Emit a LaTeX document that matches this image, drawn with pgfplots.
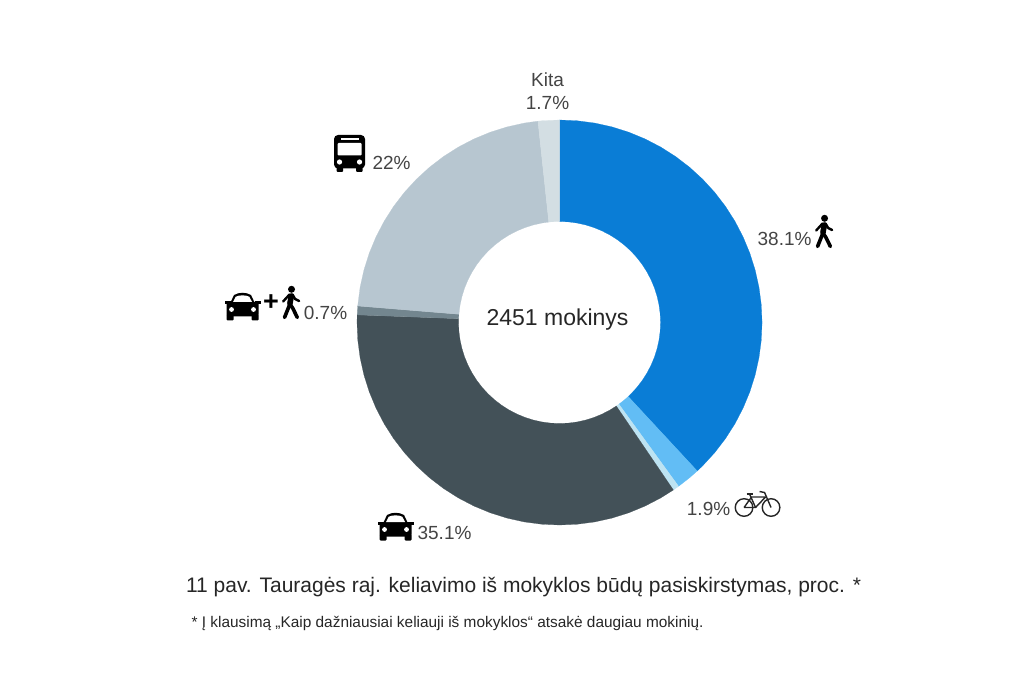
\documentclass[border=0pt]{standalone}
\usepackage{pgfplots}
\pgfplotsset{compat=1.18}
\usepackage{fontspec}
\setmainfont{Liberation Sans}
\definecolor{cBlue}{HTML}{0A7DD6}
\definecolor{cSky}{HTML}{62BDF5}
\definecolor{cPale}{HTML}{BDE3F2}
\definecolor{cDark}{HTML}{435158}
\definecolor{cMid}{HTML}{73868F}
\definecolor{cGrey}{HTML}{B7C6D0}
\definecolor{cLight}{HTML}{D3DEE3}
\definecolor{cTxt}{HTML}{444444}
\newcommand{\walkicon}[1]{\begin{scope}[shift={(#1)},x=1pt,y=1pt,black,line cap=round,line join=round]
\fill (1,13.2) circle (3.5);
\draw[line width=5.6] (0.8,6.5) -- (-0.6,-1);
\draw[line width=3.6] (-0.6,-1.5) -- (-6,-15);
\draw[line width=3.6] (-0.6,-1.5) -- (2.4,-6) -- (6.8,-15);
\draw[line width=2.4] (-1,8) -- (-7.4,1);
\draw[line width=2.4] (2,8) -- (4.6,3.5) -- (8.6,1.5);
\end{scope}}
\newcommand{\caricon}[1]{\begin{scope}[shift={(#1)},x=1pt,y=1pt,black]
\fill[rounded corners=2pt] (-16,-10) rectangle (16,4.5);
\fill (-18,2) rectangle (-12,5);
\fill (18,2) rectangle (12,5);
\fill (-12.5,3) -- (-8.5,11.5) .. controls (-3,14.5) and (3,14.5) .. (8.5,11.5) -- (12.5,3) -- cycle;
\fill[white] (-9.5,4.5) -- (-6.8,9.8) .. controls (-3,11.6) and (3,11.6) .. (6.8,9.8) -- (9.5,4.5) -- cycle;
\fill[rounded corners=1pt] (-16,-14) rectangle (-9,-8);
\fill[rounded corners=1pt] (16,-14) rectangle (9,-8);
\fill[white] (-11,-3) circle (2.4);
\fill[white] (11,-3) circle (2.4);
\end{scope}}
\newcommand{\busicon}[1]{\begin{scope}[shift={(#1)},x=1pt,y=1pt,black]
\fill[rounded corners=4pt] (-15.5,-15) rectangle (15.5,18.5);
\fill[white,rounded corners=1pt] (-12,-2) rectangle (12,10.5);
\fill[white] (-9,13.6) rectangle (9,15);
\fill[rounded corners=1pt] (-13,-18.5) rectangle (-6.5,-13);
\fill[rounded corners=1pt] (13,-18.5) rectangle (6.5,-13);
\fill[white] (-10,-8.5) circle (2.6);
\fill[white] (10,-8.5) circle (2.6);
\end{scope}}
\newcommand{\bikeicon}[1]{\begin{scope}[shift={(#1)},x=1pt,y=1pt,black!85,line width=1.4pt]
\draw (-13.5,-4) circle (8.8);
\draw (13.5,-4) circle (8.8);
\draw (-13.5,-4) -- (-6,6.5) -- (8,6.5) -- (-2,-4) -- (-13.5,-4);
\draw (-8,9.5) -- (-2,-4);
\draw (13.5,-4) -- (7,11) -- (2,12);
\draw[line width=1.8] (-11,9.5) -- (-5,9.5);
\end{scope}}
\begin{document}
\begin{tikzpicture}
\path[use as bounding box] (0,0) rectangle (1024pt,683pt);
\begin{axis}[at={(0,0)},anchor=south west,scale only axis,width=1024pt,height=683pt,
  xmin=-559.5,xmax=464.5,ymin=-360.5,ymax=322.5,hide axis,clip=false]
% shares (per cent, clockwise from the top): 38.1, 1.9, 0.5, 35.1, 0.7, 22, 1.7
% each ring segment: (angle in degrees, radius)
\addplot[data cs=polar,fill=cBlue,draw=cBlue,line width=0.2pt,forget plot] coordinates {
(90,202.5)(85,202.5)(80,202.5)(75,202.5)(70,202.5)(65,202.5)(60,202.5)(55,202.5)(50,202.5)(45,202.5)
(40,202.5)(35,202.5)(30,202.5)(25,202.5)(20,202.5)(15,202.5)(10,202.5)(5,202.5)(0,202.5)(-5,202.5)
(-10,202.5)(-15,202.5)(-20,202.5)(-25,202.5)(-30,202.5)(-35,202.5)(-40,202.5)(-45,202.5)(-47.16,202.5)
(-47.16,101)(-45,101)(-40,101)(-35,101)(-30,101)(-25,101)(-20,101)(-15,101)(-10,101)(-5,101)
(0,101)(5,101)(10,101)(15,101)(20,101)(25,101)(30,101)(35,101)(40,101)(45,101)
(50,101)(55,101)(60,101)(65,101)(70,101)(75,101)(80,101)(85,101)(90,101)} -- cycle;
\addplot[data cs=polar,fill=cSky,draw=cSky,line width=0.2pt,forget plot] coordinates {
(-47.16,202.5)(-50,202.5)(-54,202.5)(-54,101)(-50,101)(-47.16,101)} -- cycle;
\addplot[data cs=polar,fill=cPale,draw=cPale,line width=0.2pt,forget plot] coordinates {
(-54,202.5)(-55.8,202.5)(-55.8,101)(-54,101)} -- cycle;
\addplot[data cs=polar,fill=cDark,draw=cDark,line width=0.2pt,forget plot] coordinates {
(-55.8,202.5)(-60,202.5)(-65,202.5)(-70,202.5)(-75,202.5)(-80,202.5)(-85,202.5)(-90,202.5)(-95,202.5)(-100,202.5)
(-105,202.5)(-110,202.5)(-115,202.5)(-120,202.5)(-125,202.5)(-130,202.5)(-135,202.5)(-140,202.5)(-145,202.5)(-150,202.5)
(-155,202.5)(-160,202.5)(-165,202.5)(-170,202.5)(-175,202.5)(-180,202.5)(-182.16,202.5)
(-182.16,101)(-180,101)(-175,101)(-170,101)(-165,101)(-160,101)(-155,101)(-150,101)(-145,101)(-140,101)
(-135,101)(-130,101)(-125,101)(-120,101)(-115,101)(-110,101)(-105,101)(-100,101)(-95,101)(-90,101)
(-85,101)(-80,101)(-75,101)(-70,101)(-65,101)(-60,101)(-55.8,101)} -- cycle;
\addplot[data cs=polar,fill=cMid,draw=cMid,line width=0.2pt,forget plot] coordinates {
(-182.16,202.5)(-184.68,202.5)(-184.68,101)(-182.16,101)} -- cycle;
\addplot[data cs=polar,fill=cGrey,draw=cGrey,line width=0.2pt,forget plot] coordinates {
(-184.68,202.5)(-190,202.5)(-195,202.5)(-200,202.5)(-205,202.5)(-210,202.5)(-215,202.5)(-220,202.5)(-225,202.5)(-230,202.5)
(-235,202.5)(-240,202.5)(-245,202.5)(-250,202.5)(-255,202.5)(-260,202.5)(-263.88,202.5)
(-263.88,101)(-260,101)(-255,101)(-250,101)(-245,101)(-240,101)(-235,101)(-230,101)(-225,101)(-220,101)
(-215,101)(-210,101)(-205,101)(-200,101)(-195,101)(-190,101)(-184.68,101)} -- cycle;
\addplot[data cs=polar,fill=cLight,draw=cLight,line width=0.2pt,forget plot] coordinates {
(-263.88,202.5)(-265,202.5)(-270,202.5)(-270,101)(-265,101)(-263.88,101)} -- cycle;

\node[text=cTxt,font=\fontsize{19}{22}\selectfont] at (axis cs:-12,243) {Kita};
\node[text=cTxt,font=\fontsize{19}{22}\selectfont] at (axis cs:-12,220) {1.7\%};
\node[text=cTxt,font=\fontsize{19}{22}\selectfont] at (axis cs:-168,160) {22\%};
\node[text=cTxt,font=\fontsize{19}{22}\selectfont] at (axis cs:225,84) {38.1\%};
\node[text=cTxt,font=\fontsize{19}{22}\selectfont] at (axis cs:-234,10) {0.7\%};
\node[text=cTxt,font=\fontsize{19}{22}\selectfont] at (axis cs:-115,-210) {35.1\%};
\node[text=cTxt,font=\fontsize{19}{22}\selectfont] at (axis cs:149,-186) {1.9\%};
\node[text=black!85,font=\fontsize{23}{26}\selectfont] at (axis cs:-2,3) {2451 mokinys};
\node[text=black!85,font=\fontsize{21}{24}\selectfont] at (axis cs:-36,-264.5) {11 pav. Tauragės raj. keliavimo iš mokyklos būdų pasiskirstymas, proc. *};
\node[text=black!85,font=\fontsize{15.4}{18}\selectfont] at (axis cs:-112,-301) {* Į klausimą „Kaip dažniausiai keliauji iš mokyklos“ atsakė daugiau mokinių.};
\node[text=black,font=\bfseries\fontsize{27}{29}\selectfont] at (axis cs:-288.5,19.5) {+};

\coordinate (bus) at (axis cs:-210,169);
\coordinate (carA) at (axis cs:-317,16);
\coordinate (walkA) at (axis cs:-269,20);
\coordinate (carB) at (axis cs:-164,-204);
\coordinate (walkB) at (axis cs:264,91);
\coordinate (bike) at (axis cs:198,-181);
\end{axis}
\busicon{bus}
\caricon{carA}
\walkicon{walkA}
\caricon{carB}
\walkicon{walkB}
\bikeicon{bike}
\end{tikzpicture}
\end{document}
